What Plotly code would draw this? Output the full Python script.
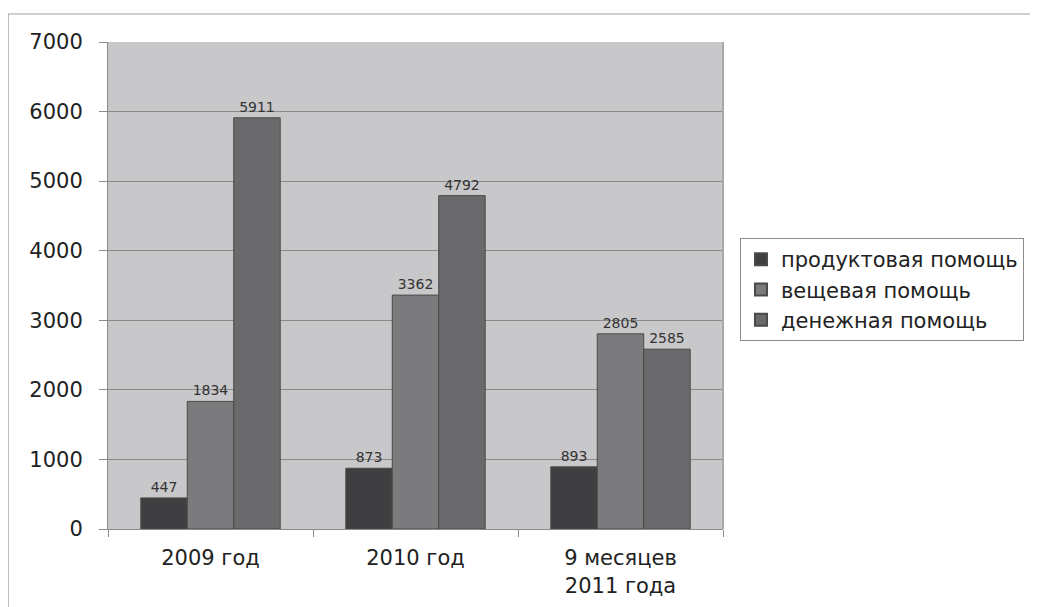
import plotly.graph_objects as go

categories = ["2009 год", "2010 год", "9 месяцев<br>2011 года"]
series_names = ["продуктовая помощь", "вещевая помощь", "денежная помощь"]
food = [447, 873, 893]
goods = [1834, 3362, 2805]
money = [5911, 4792, 2585]
y_ticks = [0, 1000, 2000, 3000, 4000, 5000, 6000, 7000]

colors = ["#3f3f41", "#7b7b7d", "#6a6a6c"]
FONT = "DejaVu Sans, Arial"

fig = go.Figure()
for name, vals, col in zip(series_names, [food, goods, money], colors):
    fig.add_trace(go.Bar(
        x=categories, y=vals, name=name,
        marker=dict(color=col, line=dict(color="#4a4a4a", width=1)),
        text=[str(v) for v in vals], textposition="outside",
        textfont=dict(size=14, color="#333333", family=FONT),
        cliponaxis=False,
    ))

fig.update_layout(
    width=1038, height=607,
    margin=dict(l=100, r=323, t=34, b=86),
    barmode="group", bargap=0.32, bargroupgap=0,
    paper_bgcolor="white", plot_bgcolor="#c8c8ca",
    font=dict(family=FONT, color="#222222"),
    showlegend=True,
    legend=dict(
        x=1.0276, y=0.5975, xanchor="left", yanchor="top",
        bgcolor="white", bordercolor="#8c8c8c", borderwidth=1,
        font=dict(size=21, color="#222222", family=FONT),
        tracegroupgap=0, itemsizing="constant",
    ),
    xaxis=dict(
        showgrid=False, showline=True, linecolor="#8a8a8a", linewidth=1,
        ticks="outside", tickson="boundaries", ticklen=7, tickcolor="#8a8a8a",
        tickfont=dict(size=21, color="#222222", family=FONT), mirror=False,
        ticklabelstandoff=10,
    ),
    yaxis=dict(
        range=[0, 7000], tickvals=y_ticks,
        showgrid=True, gridcolor="#8a8a8a", gridwidth=1,
        showline=True, linecolor="#8a8a8a", linewidth=1,
        ticks="outside", ticklen=8, tickcolor="#8a8a8a",
        tickfont=dict(size=21, color="#222222", family=FONT), zeroline=False,
        ticklabelstandoff=12,
    ),
    shapes=[
        dict(type="line", xref="paper", yref="paper", x0=-0.1626, x1=1.6, y0=1.0575, y1=1.0575,
             line=dict(color="#a0a0a0", width=1)),
        dict(type="line", xref="paper", yref="paper", x0=-0.1626, x1=-0.1626, y0=1.0575, y1=-0.2,
             line=dict(color="#808080", width=1)),
        dict(type="line", xref="paper", yref="paper", x0=1, x1=1, y0=0, y1=1,
             line=dict(color="#a8a8aa", width=2)),
    ],
)

fig.write_html("out.html")
